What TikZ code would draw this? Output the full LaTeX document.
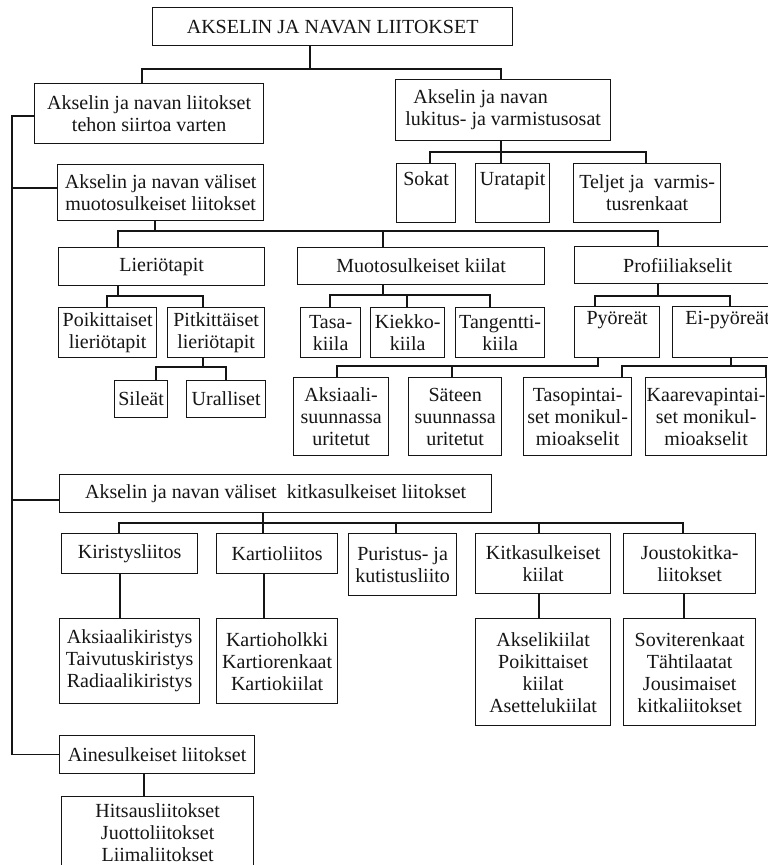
\documentclass[tikz,border=0pt]{standalone}
\usepackage{fontspec}
\setmainfont{Liberation Serif}
\definecolor{paper}{HTML}{FFFFFF}
\definecolor{ink}{HTML}{151515}
\newcommand{\boxfont}{\fontsize{20}{22}\selectfont}

\begin{document}
\begin{tikzpicture}[
  x=1pt, y=-1pt, line width=1.3pt, text=ink,
  box/.style={draw=ink, line width=1.3pt, anchor=north west, inner sep=0pt,
    align=center, font=\boxfont},
  link/.style={draw=ink, line width=1.3pt, line cap=rect},
]
  % Page: 768 x 865 units, y grows downwards; the scan is cut at right and bottom.
  \useasboundingbox (0,0) rectangle (768,865);
  \clip (0,0) rectangle (768,865);
  \fill[paper] (0,0) rectangle (768,865);

  % Top level and the two main branches.
  \node[box, minimum width=360pt, minimum height=38pt] (root) at (152,7) {AKSELIN JA NAVAN LIITOKSET};
  \node[box, minimum width=229pt, minimum height=60pt] (teho) at (34,83) {Akselin ja navan liitokset\\tehon siirtoa varten};
  \node[box, minimum width=215pt, minimum height=61pt, align=left] (lukitus) at (395,79) {\hspace*{8pt}Akselin ja navan\\lukitus- ja varmistusosat};

  % Locking parts.
  \node[box, minimum width=59pt, minimum height=59pt] (sokat) at (396,163) {Sokat\\\strut};
  \node[box, minimum width=74pt, minimum height=59pt] (uratapit) at (475,163) {Uratapit\\\strut};
  \node[box, minimum width=147pt, minimum height=59pt] (teljet) at (573,163) {Teljet ja\ \ varmis-\\tusrenkaat};

  % Form-locked joints.
  \node[box, minimum width=206pt, minimum height=56pt] (muoto) at (57,164) {Akselin ja navan väliset\\muotosulkeiset liitokset};
  \node[box, minimum width=206pt, minimum height=38pt] (lierio) at (58,247) {Lieriötapit};
  \node[box, minimum width=247pt, minimum height=37pt] (mkiilat) at (297,247) {Muotosulkeiset kiilat};
  \node[box, minimum width=206pt, minimum height=37pt] (profiili) at (574,246) {Profiiliakselit};

  \node[box, minimum width=98pt, minimum height=50pt] (poik) at (58,307) {Poikittaiset\\lieriötapit};
  \node[box, minimum width=97pt, minimum height=50pt] (pitk) at (167,307) {Pitkittäiset\\lieriötapit};
  \node[box, minimum width=60pt, minimum height=50pt] (tasa) at (300,307) {Tasa-\\kiila};
  \node[box, minimum width=74pt, minimum height=50pt] (kiekko) at (370,307) {Kiekko-\\kiila};
  \node[box, minimum width=89pt, minimum height=50pt] (tangentti) at (455,307) {Tangentti-\\kiila};
  \node[box, minimum width=85pt, minimum height=51pt] (pyoreat) at (574,306) {Pyöreät\\\strut};
  \node[box, minimum width=110pt, minimum height=51pt] (eipyoreat) at (672,306) {Ei-pyöreät\\\strut};

  \node[box, minimum width=53pt, minimum height=37pt] (sileat) at (114,380) {Sileät};
  \node[box, minimum width=79pt, minimum height=37pt] (uralliset) at (186,380) {Uralliset};
  \node[box, minimum width=95pt, minimum height=78pt] (aksiaali) at (293,377) {Aksiaali-\\suunnassa\\uritetut};
  \node[box, minimum width=93pt, minimum height=78pt] (sateen) at (408,377) {Säteen\\suunnassa\\uritetut};
  \node[box, minimum width=108pt, minimum height=78pt] (tasop) at (523,377) {Tasopintai-\\set monikul-\\mioakselit};
  \node[box, minimum width=121pt, minimum height=78pt] (kaareva) at (645,377) {Kaarevapintai-\\set monikul-\\mioakselit};

  % Friction-locked joints.
  \node[box, minimum width=432pt, minimum height=38pt] (kitka) at (59,474) {Akselin ja navan väliset\ \ kitkasulkeiset liitokset};
  \node[box, minimum width=136pt, minimum height=40pt] (kiristys) at (61,533) {Kiristysliitos};
  \node[box, minimum width=121pt, minimum height=40pt] (kartio) at (216,533) {Kartioliitos};
  \node[box, minimum width=108pt, minimum height=62pt] (puristus) at (348,533) {Puristus- ja\\kutistusliito};
  \node[box, minimum width=135pt, minimum height=60pt] (kkiilat) at (475,533) {Kitkasulkeiset\\kiilat};
  \node[box, minimum width=132pt, minimum height=60pt] (jousto) at (623,533) {Joustokitka-\\liitokset};

  \node[box, minimum width=140pt, minimum height=85pt] (kirtypes) at (59,618) {Aksiaalikiristys\\Taivutuskiristys\\Radiaalikiristys};
  \node[box, minimum width=121pt, minimum height=85pt] (karttypes) at (216,618) {Kartioholkki\\Kartiorenkaat\\Kartiokiilat};
  \node[box, minimum width=135pt, minimum height=107pt] (kiiltypes) at (475,618) {Akselikiilat\\Poikittaiset\\kiilat\\Asettelukiilat};
  \node[box, minimum width=132pt, minimum height=107pt] (joustypes) at (623,618) {Soviterenkaat\\Tähtilaatat\\Jousimaiset\\kitkaliitokset};

  % Material-locked joints.
  \node[box, minimum width=195pt, minimum height=38pt] (aines) at (59,735) {Ainesulkeiset liitokset};
  \node[box, minimum width=192pt, minimum height=72pt] (ainestypes) at (61,796) {Hitsausliitokset\\Juottoliitokset\\Liimaliitokset};

  % Connectors: main split and locking parts.
  \draw[link] (root.south -| 310,0) -- (310,69);
  \draw[link] (teho.north -| 142,0) |- (310,69) -| (lukitus.north -| 501,0);
  \draw[link] (lukitus.south -| 501,0) -- (uratapit.north -| 501,0);
  \draw[link] (sokat.north -| 430,0) |- (501,152) -| (teljet.north -| 646,0);

  % Left bus to the three joint families.
  \draw[link] (teho.west |- 0,116) -- (12,116) -- (aines.west -| 12,0) -- (aines.west);
  \draw[link] (muoto.west |- 0,188) -- (12,188);
  \draw[link] (kitka.west |- 0,500) -- (12,500);

  % Form-locked tree.
  \draw[link] (muoto.south -| 155,0) -- (155,231);
  \draw[link] (118,231) -- (658,231);
  \foreach \n/\x in {lierio/118, mkiilat/383, profiili/658}
    \draw[link] (\x,231) -- (\n.north -| \x,0);

  \draw[link] (lierio.south -| 118,0) -- (118,296);
  \draw[link] (107,296) -- (203,296);
  \foreach \n/\x in {poik/107, pitk/203}
    \draw[link] (\x,296) -- (\n.north -| \x,0);

  \draw[link] (pitk.south -| 203,0) -- (203,367);
  \draw[link] (156,367) -- (226,367);
  \foreach \n/\x in {sileat/156, uralliset/226}
    \draw[link] (\x,367) -- (\n.north -| \x,0);

  \draw[link] (mkiilat.south -| 383,0) -- (383,295);
  \draw[link] (330,295) -- (490,295);
  \foreach \n/\x in {tasa/330, kiekko/407, tangentti/490}
    \draw[link] (\x,295) -- (\n.north -| \x,0);

  \draw[link] (profiili.south -| 658,0) -- (658,296);
  \draw[link] (595,296) -- (730,296);
  \foreach \n/\x in {pyoreat/595, eipyoreat/730}
    \draw[link] (\x,296) -- (\n.north -| \x,0);

  \draw[link] (pyoreat.south -| 598,0) -- (598,366);
  \draw[link] (337,366) -- (598,366);
  \foreach \n/\x in {aksiaali/337, sateen/452}
    \draw[link] (\x,366) -- (\n.north -| \x,0);

  \draw[link] (eipyoreat.south -| 731,0) -- (731,366);
  \draw[link] (622,366) -- (766,366);
  \foreach \n/\x in {tasop/622, kaareva/766}
    \draw[link] (\x,366) -- (\n.north -| \x,0);

  % Friction-locked tree.
  \draw[link] (kitka.south -| 263,0) -- (263,523);
  \draw[link] (119,523) -- (683,523);
  \foreach \n/\x in {kiristys/119, kartio/263, puristus/396, kkiilat/539, jousto/683}
    \draw[link] (\x,523) -- (\n.north -| \x,0);
  \foreach \a/\b/\x in {kiristys/kirtypes/120, kartio/karttypes/264, kkiilat/kiiltypes/539, jousto/joustypes/684}
    \draw[link] (\a.south -| \x,0) -- (\b.north -| \x,0);

  % Material-locked tree.
  \draw[link] (aines.south -| 144,0) -- (ainestypes.north -| 144,0);
\end{tikzpicture}
\end{document}
